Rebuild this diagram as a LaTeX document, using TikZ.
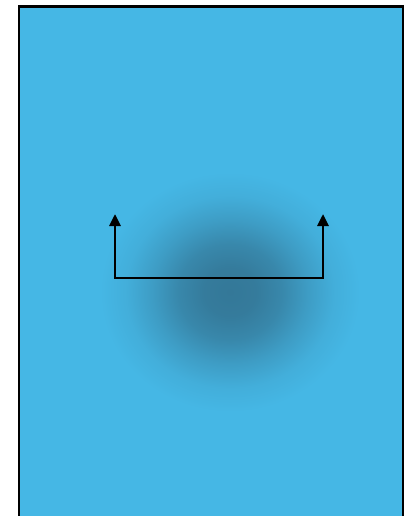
\documentclass[tikz,border=0pt]{standalone}
\usepackage{xcolor}
\definecolor{skyfill}{RGB}{69,183,229}
\definecolor{spotdark}{RGB}{52,120,152}
\usepackage{tikz}
\usetikzlibrary{arrows.meta,positioning}
\pgfdeclareradialshading{spot}{\pgfpoint{0bp}{0bp}}{%
  color(0bp)=(spotdark);
  color(5bp)=(spotdark!95!skyfill);
  color(10bp)=(spotdark!75!skyfill);
  color(15bp)=(spotdark!42!skyfill);
  color(20bp)=(spotdark!14!skyfill);
  color(25bp)=(skyfill);
  color(50bp)=(skyfill)}

\begin{document}
\begin{tikzpicture}[x=1pt,y=-1pt]
  \useasboundingbox (0,0) rectangle (405,516);
  % panel and dark spot
  \fill[skyfill] (19,6.2) rectangle (403,530);
  \shade[shading=spot] (100,172) rectangle (360,412);
  \draw[line width=2.8pt] (19,530) -- (19,6.2) -- (403,6.2) -- (403,530);
  % bracket
  \coordinate (ltip) at (115,214);
  \coordinate (lbase) at (115,278);
  \coordinate (rbase) at (323,278);
  \coordinate (rtip) at (323,214);
  \draw[line width=2.8pt,{Triangle[width=11pt,length=12pt]}-{Triangle[width=11pt,length=12pt]}]
    (ltip) -- (lbase) -- (rbase) -- (rtip);
\end{tikzpicture}
\end{document}
